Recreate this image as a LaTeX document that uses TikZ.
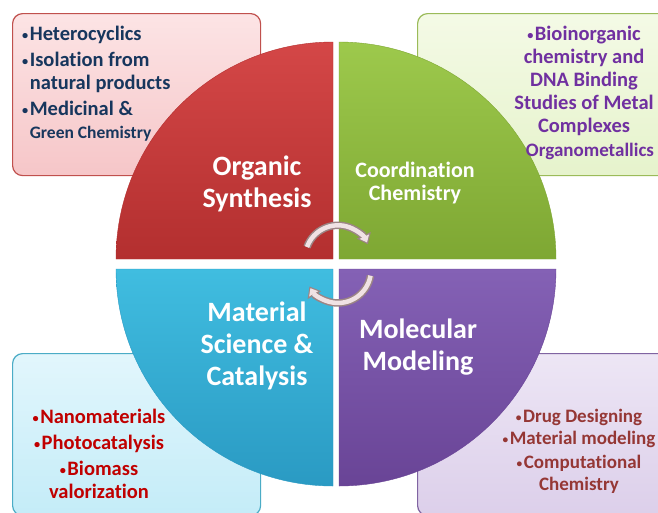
\documentclass[tikz,border=0pt]{standalone}
\usepackage{fontspec}
\setmainfont{Carlito}[Ligatures=CommonOff]
\usetikzlibrary{arrows.meta, positioning}

\definecolor{synline}{HTML}{C0504D}
\definecolor{synfillA}{HTML}{FCE4E5}
\definecolor{synfillB}{HTML}{F6C6C8}
\definecolor{coordline}{HTML}{9BBB59}
\definecolor{coordfillA}{HTML}{F4FAE6}
\definecolor{coordfillB}{HTML}{E6F3CC}
\definecolor{matline}{HTML}{4BACC6}
\definecolor{matfillA}{HTML}{E2F6FC}
\definecolor{matfillB}{HTML}{C4ECF8}
\definecolor{molline}{HTML}{8064A2}
\definecolor{molfillA}{HTML}{EDE6F5}
\definecolor{molfillB}{HTML}{DCCFEA}
\definecolor{synA}{HTML}{D44747}
\definecolor{synB}{HTML}{B32F2F}
\definecolor{coordA}{HTML}{9DC94C}
\definecolor{coordB}{HTML}{7EA733}
\definecolor{matA}{HTML}{40BDE0}
\definecolor{matB}{HTML}{2A9AC3}
\definecolor{molA}{HTML}{8461B5}
\definecolor{molB}{HTML}{694496}
\definecolor{navytext}{HTML}{17365D}
\definecolor{violettext}{HTML}{7030A0}
\definecolor{redtext}{HTML}{C00000}
\definecolor{browntext}{HTML}{953735}
\definecolor{arrowedge}{HTML}{9C8585}
\definecolor{arrowfill}{HTML}{F0E2E4}

\newcommand{\bul}{\raisebox{0.12ex}{\scalebox{0.6}{•}}\hspace{1.5pt}}

\begin{document}
\begin{tikzpicture}[x=1pt, y=1pt,
    infobox/.style={rectangle, rounded corners=10pt, line width=1.2pt, anchor=north west,
                    minimum width=248pt, minimum height=162pt},
    quadlabel/.style={text=white, align=center, font=\bfseries\fontsize{28}{32}\selectfont},
    itemtext/.style={anchor=north, inner sep=0pt, align=center, font=\bfseries\fontsize{20.5}{23}\selectfont},
    arrowout/.style={draw=arrowedge, line width=7.5pt, -{Triangle[length=10pt,width=15pt]}},
    arrowin/.style={draw=arrowfill, line width=4.5pt, shorten >=2pt, -{Triangle[length=6.5pt,width=10pt]}}
]
    \useasboundingbox (0,0) rectangle (658,-512);
    \clip (0,0) rectangle (658,-512);
    \fill[white] (0,0) rectangle (658,-512);

    % side boxes
    \node[infobox, draw=synline, top color=synfillA, bottom color=synfillB] (synbox) at (12,-13) {};
    \node[infobox, draw=coordline, top color=coordfillA, bottom color=coordfillB,
          minimum width=260pt] (coordbox) at (417,-13) {};
    \node[infobox, draw=matline, top color=matfillA, bottom color=matfillB] (matbox) at (12,-353) {};
    \node[infobox, draw=molline, top color=molfillA, bottom color=molfillB,
          minimum width=260pt] (molbox) at (417,-353) {};

    % quarters of the circle
    \coordinate (hub) at (336,-264);
    \path[draw=synB, top color=synA, bottom color=synB]
        (333,-259) -- ++(-217,0) arc[start angle=180, end angle=90, radius=217] -- cycle;
    \path[draw=coordB, top color=coordA, bottom color=coordB]
        (339,-259) -- ++(0,217) arc[start angle=90, end angle=0, radius=217] -- cycle;
    \path[draw=matB, top color=matA, bottom color=matB]
        (333,-269) -- ++(-217,0) arc[start angle=180, end angle=270, radius=217] -- cycle;
    \path[draw=molB, top color=molA, bottom color=molB]
        (339,-269) -- ++(217,0) arc[start angle=0, end angle=-90, radius=217] -- cycle;

    % quarter titles
    \node[quadlabel] (synlabel) at (257,-184) {Organic\\Synthesis};
    \node[quadlabel, font=\bfseries\fontsize{22}{23}\selectfont] (coordlabel) at (415,-183) {Coordination\\Chemistry};
    \node[quadlabel] (matlabel) at (257,-346) {Material\\Science \&\\Catalysis};
    \node[quadlabel] (mollabel) at (418,-347) {Molecular\\Modeling};

    % box texts
    \node[itemtext, anchor=north west, align=left, text=navytext] (syntext) at (22,-26)
        {\bul Heterocyclics\\[3pt]
         \bul Isolation from\\
         \phantom{\bul}natural products\\[3pt]
         \bul Medicinal \&\\
         \phantom{\bul}{\fontsize{17.5}{19}\selectfont Green Chemistry}};
    \node[itemtext, text=violettext] (coordtext) at (584,-26)
        {\bul Bioinorganic\\ chemistry and\\ DNA Binding\\ Studies of Metal\\ Complexes\\[1pt]
         \hspace*{12pt}{\fontsize{19}{20}\selectfont Organometallics}};
    \node[itemtext, text=redtext] (mattext) at (99,-409)
        {\bul Nanomaterials\\[3pt] \bul Photocatalysis\\[3pt] \bul Biomass\\ valorization};
    \node[itemtext, text=browntext, font=\bfseries\fontsize{19}{22}\selectfont] (moltext) at (579,-409)
        {\bul Drug Designing\\ \bul Material modeling\\[2pt] \bul Computational\\ Chemistry};

    % cycle arrows
    \draw[arrowout] ([shift={(-29,17)}]hub) arc[start angle=160, end angle=25, radius=33];
    \draw[arrowin]  ([shift={(-29,17)}]hub) arc[start angle=160, end angle=25, radius=33];
    \draw[arrowout] ([shift={(34.5,-11.7)}]hub) arc[start angle=-10, end angle=-150, radius=33];
    \draw[arrowin]  ([shift={(34.5,-11.7)}]hub) arc[start angle=-10, end angle=-150, radius=33];
\end{tikzpicture}
\end{document}
